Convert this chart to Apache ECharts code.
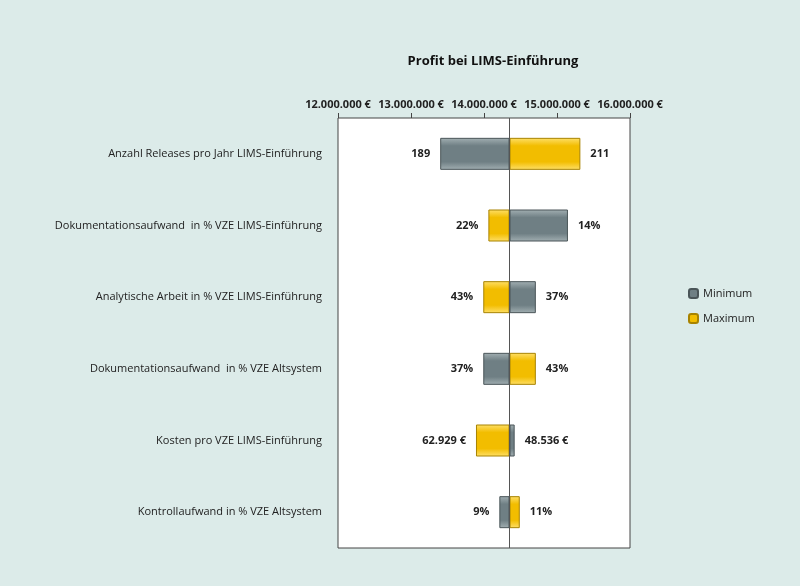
<!DOCTYPE html>
<html>
<head>
<meta charset="UTF-8">
<script src="https://cdn.jsdelivr.net/npm/echarts@6/dist/echarts.min.js"></script>
<style>
  *{margin:0;padding:0}
  body{background:#dcebe9}
  #main{width:800px;height:586px}
</style>
</head>
<body>
<div id="main"></div>
<script>
var categories = ['Anzahl Releases pro Jahr LIMS-Einführung', 'Dokumentationsaufwand  in % VZE LIMS-Einführung',
  'Analytische Arbeit in % VZE LIMS-Einführung', 'Dokumentationsaufwand  in % VZE Altsystem',
  'Kosten pro VZE LIMS-Einführung', 'Kontrollaufwand in % VZE Altsystem'];
var baseline = 14350000;
// where each bar ends (profit in €)
var minEnd = [13400000, 15150000, 14710000, 13990000, 14420000, 14210000];
var maxEnd = [15320000, 14060000, 13990000, 14710000, 13890000, 14490000];
var minLabels = ['189', '14%', '37%', '37%', '48.536 €', '9%'];
var maxLabels = ['211', '22%', '43%', '43%', '62.929 €', '11%'];

function grad(c1, c2){
  return new echarts.graphic.LinearGradient(0,0,0,1,[
    {offset:0,color:c2},{offset:0.25,color:c1},{offset:0.75,color:c1},{offset:1,color:c2}]);
}
var grayCol = grad('#6f7f84', '#a3b0b3');
var yellowCol = grad('#f2bd00', '#ffe06a');

function baseData(ends){ return ends.map(function(v){ return Math.min(v, baseline); }); }
function lenData(ends, labels){
  return ends.map(function(v, i){
    return {value: Math.abs(v - baseline),
      label: {show:true, formatter: labels[i], position: v < baseline ? 'left' : 'right',
        distance: 10, fontWeight:'bold', fontSize:11, color:'#222', fontFamily:'Open Sans'}};
  });
}

var chart = echarts.init(document.getElementById('main'));
chart.setOption({
  textStyle: {fontFamily:'Open Sans'},
  title: {text:'Profit bei LIMS-Einführung', left:488, top:50, textAlign:'center',
    textStyle:{fontSize:13, fontWeight:'bold', color:'#111', fontFamily:'Open Sans'}},
  legend: {orient:'vertical', left:683, top:283, itemWidth:9, itemHeight:9, itemGap:14,
    textStyle:{fontSize:11, color:'#222'},
    data:[{name:'Minimum', itemStyle:{color:'#6f7f84'}}, {name:'Maximum', itemStyle:{color:'#f2bd00'}}]},
  grid: {left:338, right:170, top:118, bottom:38, show:true, backgroundColor:'#fff', borderColor:'#444'},
  xAxis: {type:'value', position:'top', min:12000000, max:16000000, interval:1000000,
    axisLine:{show:false}, axisTick:{show:true, lineStyle:{color:'#444'}}, splitLine:{show:false},
    axisLabel:{fontSize:11, fontWeight:'bold', color:'#222',
      formatter:function(v){ return (v/1000000).toFixed(0) + '.000.000 €'; }}},
  yAxis: {type:'category', data:categories, inverse:true, axisLine:{show:false}, axisTick:{show:false},
    axisLabel:{fontSize:11, color:'#222', margin:16}},
  series: [
    {type:'bar', stack:'min', data:baseData(minEnd), itemStyle:{color:'transparent'}, barWidth:32, barGap:'-100%', silent:true,
     markLine:{silent:true, symbol:'none', label:{show:false}, lineStyle:{color:'#555', type:'solid', width:1},
       data:[{xAxis:baseline}]}},
    {name:'Minimum', type:'bar', stack:'min', data:lenData(minEnd, minLabels), barWidth:32,
     itemStyle:{color:grayCol, borderColor:'#4a5558', borderWidth:1}},
    {type:'bar', stack:'max', data:baseData(maxEnd), itemStyle:{color:'transparent'}, barWidth:32, silent:true},
    {name:'Maximum', type:'bar', stack:'max', data:lenData(maxEnd, maxLabels), barWidth:32,
     itemStyle:{color:yellowCol, borderColor:'#a88300', borderWidth:1}}
  ]
});
</script>
</body>
</html>
